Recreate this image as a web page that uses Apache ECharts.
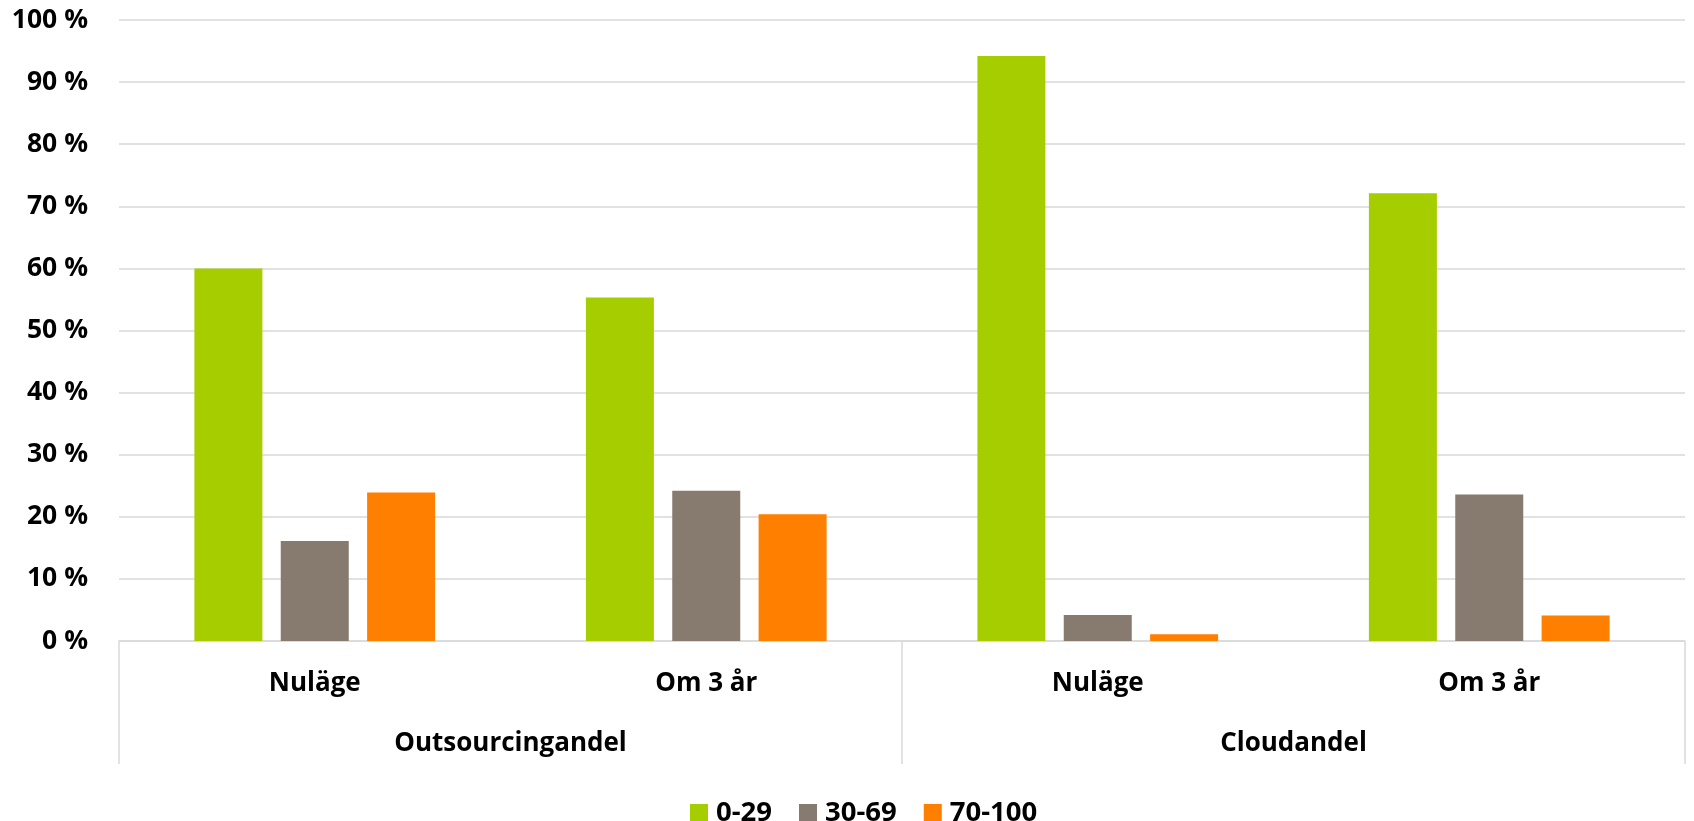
<!DOCTYPE html>
<html>
<head>
<meta charset="utf-8">
<script src="https://cdn.jsdelivr.net/npm/echarts@6/dist/echarts.min.js"></script>
<style>
html,body{margin:0;padding:0;background:#fff;}
#chart{width:1694px;height:821px;}
</style>
</head>
<body>
<div id="chart"></div>
<script>
const categories = ["Nuläge", "Om 3 år", "Nuläge", "Om 3 år"];
const groups = ["Outsourcingandel", "Cloudandel"];
const seriesNames = ["0-29", "30-69", "70-100"];
const values0to29 = [60.0, 55.3, 94.2, 72.1];
const values30to69 = [16.1, 24.2, 4.2, 23.6];
const values70to100 = [23.9, 20.4, 1.1, 4.1];
const yTicks = [0, 10, 20, 30, 40, 50, 60, 70, 80, 90, 100];

const FONT = "Open Sans";
const colors = ["#a5cd00", "#867b6e", "#ff7f00"];

const chart = echarts.init(document.getElementById('chart'), null, {renderer: 'canvas'});
const option = {
  animation: false,
  backgroundColor: '#fff',
  grid: {left: 119, right: 9, top: 20, bottom: 180, containLabel: false},
  legend: {
    data: seriesNames,
    left: 685,
    top: 794,
    itemWidth: 18,
    itemHeight: 18,
    itemGap: 27,
    icon: 'rect',
    textStyle: {fontFamily: FONT, fontWeight: 'bold', fontSize: 27.5, color: '#000', lineHeight: 26, padding: [0,0,0,3]}
  },
  xAxis: [
    {
      type: 'category',
      data: categories,
      position: 'bottom',
      axisLine: {show: true, lineStyle: {color: '#d9d9d9', width: 1.5}},
      axisTick: {show: false},
      axisLabel: {margin: 30, fontFamily: FONT, fontWeight: 'bold', fontSize: 26, color: '#000', interval: 0}
    },
    {
      type: 'category',
      data: groups,
      position: 'bottom',
      axisLine: {show: false},
      axisTick: {show: true, length: 123, inside: false, interval: 0, alignWithLabel: false, lineStyle: {color: '#d9d9d9', width: 1.5}},
      axisLabel: {margin: 90, fontFamily: FONT, fontWeight: 'bold', fontSize: 26, color: '#000', interval: 0}
    }
  ],
  yAxis: {
    type: 'value',
    min: yTicks[0],
    max: yTicks[yTicks.length - 1],
    interval: 10,
    axisLine: {show: false},
    axisTick: {show: false},
    splitLine: {show: true, lineStyle: {color: '#d9d9d9', width: 1.5}},
    axisLabel: {margin: 31, fontFamily: FONT, fontWeight: 'bold', fontSize: 26.5, color: '#000', formatter: v => v + ' %'}
  },
  series: [
    {name: seriesNames[0], type: 'bar', data: values0to29, barWidth: 68, barGap: '27%', itemStyle: {color: colors[0]}},
    {name: seriesNames[1], type: 'bar', data: values30to69, barWidth: 68, barGap: '27%', itemStyle: {color: colors[1]}},
    {name: seriesNames[2], type: 'bar', data: values70to100, barWidth: 68, barGap: '27%', itemStyle: {color: colors[2]}}
  ]
};
chart.setOption(option);
</script>
</body>
</html>
